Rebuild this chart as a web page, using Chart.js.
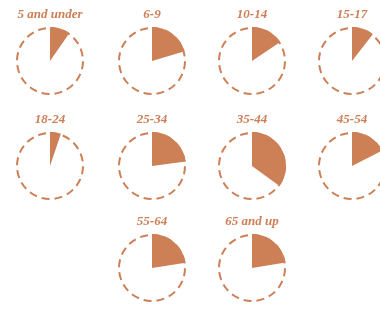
<!DOCTYPE html>
<html>
<head>
<meta charset="utf-8">
<script src="https://cdn.jsdelivr.net/npm/chart.js@4/dist/chart.umd.min.js"></script>
<style>
    html, body { margin: 0; padding: 0; background: #fff; }
    #wrap { position: relative; width: 380px; height: 311px; overflow: hidden; }
    #wrap canvas { position: absolute; }
</style>
</head>
<body>
<div id="wrap"></div>
<script>
// age groups and the share for each one (percent)
var ageGroups = ['5 and under', '6-9', '10-14', '15-17', '18-24', '25-34', '35-44', '45-54', '55-64', '65 and up'];
var shares = [9.7, 20.4, 15.6, 10.5, 5.2, 22.9, 35, 17.5, 22.5, 22.4];

// where each little pie sits (center x / row top)
var colX = [50, 152, 252, 352, 50, 152, 252, 352, 152, 252];
var rowTop = [0, 0, 0, 0, 105, 105, 105, 105, 207, 207];

var brown = '#cd7f56';

// dashed ring round each pie, just inside the slice edge
var dashedRing = {
    id: 'dashedRing',
    afterDatasetsDraw: function(chart) {
        var arc = chart.getDatasetMeta(0).data[0];
        if (!arc) return;
        var ctx = chart.ctx;
        ctx.save();
        ctx.strokeStyle = brown;
        ctx.lineWidth = 2;
        ctx.setLineDash([8, 5]);
        ctx.beginPath();
        ctx.arc(arc.x, arc.y, arc.outerRadius - 1, -Math.PI / 2, Math.PI * 1.5);
        ctx.stroke();
        ctx.restore();
    }
};

function makePie(i) {
    var canvas = document.createElement('canvas');
    canvas.width = 100;
    canvas.height = 97;
    canvas.style.left = (colX[i] - 50) + 'px';
    canvas.style.top = rowTop[i] + 'px';
    document.getElementById('wrap').appendChild(canvas);

    new Chart(canvas, {
        type: 'pie',
        data: {
            labels: [ageGroups[i], 'rest'],
            datasets: [{
                data: [shares[i], 100 - shares[i]],
                backgroundColor: [brown, 'rgba(0,0,0,0)'],
                borderWidth: 0
            }]
        },
        options: {
            responsive: false,
            animation: false,
            layout: { padding: { top: 0, bottom: 2, left: 0, right: 0 } },
            plugins: {
                legend: { display: false },
                tooltip: { enabled: false },
                title: {
                    display: true,
                    text: ageGroups[i],
                    color: brown,
                    font: { family: 'Liberation Serif', size: 13, style: 'italic', weight: 'bold' },
                    padding: { top: 7, bottom: 4.4 }
                }
            }
        },
        plugins: [dashedRing]
    });
}

for (var i = 0; i < ageGroups.length; i++) {
    makePie(i);
}
</script>
</body>
</html>
